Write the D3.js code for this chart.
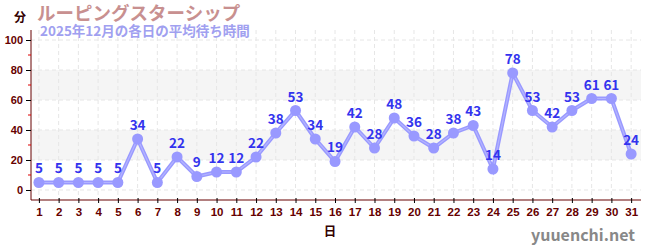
<!DOCTYPE html>
<html>
<head>
<meta charset="UTF-8">
<script src="https://d3js.org/d3.v7.min.js"></script>
<style>
body { margin: 0; background: #fff; }
svg { font-family: "Noto Sans CJK JP", "DejaVu Sans", sans-serif; }
</style>
</head>
<body>
<script>
// 各日の平均待ち時間 (分)
var days = d3.range(1, 32);
var waits = [5, 5, 5, 5, 5, 34, 5, 22, 9, 12, 12, 22, 38, 53, 34, 19, 42, 28, 48, 36, 28, 38, 43, 14, 78, 53, 42, 53, 61, 61, 24];
var yTicks = [0, 20, 40, 60, 80, 100];
var yMinor = [10, 30, 50, 70, 90];
var bands = [[20, 40], [60, 80]];

var width = 650, height = 250;
// plot edges (not "top" - that name is taken by window.top)
var plotL = 31, plotR = 641, plotT = 30, plotB = 200;
var axisCol = "#660000";

var svg = d3.select("body").append("svg")
    .attr("width", width)
    .attr("height", height);

var x = d3.scaleLinear().domain([0.6, 31.5]).range([plotL, plotR]);
var y = d3.scaleLinear().domain([-6.67, 106.67]).range([plotB, plotT]);

// bands
svg.append("g").selectAll("rect")
    .data(bands)
    .enter().append("rect")
    .attr("x", plotL)
    .attr("width", plotR - plotL)
    .attr("y", function(d) { return y(d[1]); })
    .attr("height", function(d) { return y(d[0]) - y(d[1]); })
    .attr("fill", "#f5f5f5");

// grid
var grid = svg.append("g")
    .attr("stroke", "#e6e6e6")
    .attr("stroke-dasharray", "4,3");
grid.selectAll("line.h")
    .data(yTicks)
    .enter().append("line")
    .attr("x1", plotL).attr("x2", plotR)
    .attr("y1", function(d) { return y(d); })
    .attr("y2", function(d) { return y(d); });
grid.selectAll("line.v")
    .data(days)
    .enter().append("line")
    .attr("y1", plotT).attr("y2", plotB)
    .attr("x1", function(d) { return x(d); })
    .attr("x2", function(d) { return x(d); });

// y axis
var yAxis = svg.append("g")
    .attr("transform", "translate(" + plotL + ",0)")
    .call(d3.axisLeft(y).tickValues(yTicks).tickSize(5).tickPadding(3));
yAxis.select(".domain").attr("stroke", axisCol).attr("d", "M0," + plotT + "V" + plotB);
yAxis.selectAll(".tick line").attr("stroke", "#000");
yAxis.selectAll("text")
    .attr("fill", axisCol)
    .attr("font-size", 11)
    .attr("font-weight", "bold");
svg.append("g").selectAll("line")
    .data(yMinor)
    .enter().append("line")
    .attr("x1", plotL - 3).attr("x2", plotL)
    .attr("y1", function(d) { return y(d); })
    .attr("y2", function(d) { return y(d); })
    .attr("stroke", "#dd0000");

// x axis
var xAxis = svg.append("g")
    .attr("transform", "translate(0," + plotB + ")")
    .call(d3.axisBottom(x).tickValues(days).tickFormat(d3.format("d")).tickSize(5).tickPadding(3));
xAxis.select(".domain").attr("stroke", axisCol).attr("d", "M" + plotL + ",0H" + plotR);
xAxis.selectAll(".tick line").attr("stroke", "#000").attr("y1", -2).attr("y2", 3);
xAxis.selectAll("text")
    .attr("fill", axisCol)
    .attr("font-size", 11.5)
    .attr("font-weight", "bold");

// line + points
var line = d3.line()
    .x(function(d, i) { return x(days[i]); })
    .y(function(d) { return y(d); });

svg.append("path")
    .datum(waits)
    .attr("d", line)
    .attr("fill", "none")
    .attr("stroke", "#9999ff")
    .attr("stroke-width", 4);
// lighter core of the line
svg.append("path")
    .datum(waits)
    .attr("d", line)
    .attr("fill", "none")
    .attr("stroke", "#b4b4ff")
    .attr("stroke-width", 1.2);

svg.append("g").selectAll("circle")
    .data(waits)
    .enter().append("circle")
    .attr("cx", function(d, i) { return x(days[i]); })
    .attr("cy", function(d) { return y(d); })
    .attr("r", 5.5)
    .attr("fill", "#9999ff");

svg.append("g").selectAll("text")
    .data(waits)
    .enter().append("text")
    .attr("x", function(d, i) { return x(days[i]); })
    .attr("y", function(d) { return y(d) - 9; })
    .attr("text-anchor", "middle")
    .attr("font-size", 13.5)
    .attr("font-weight", "bold")
    .attr("fill", "#3333ee")
    .text(function(d) { return d; });

// titles
svg.append("text")
    .attr("x", 37).attr("y", 20)
    .attr("font-size", 18.5)
    .attr("font-weight", "bold")
    .attr("fill", "#c89090")
    .text("ルーピングスターシップ");
svg.append("text")
    .attr("x", 40).attr("y", 36)
    .attr("font-size", 13.5)
    .attr("font-weight", "bold")
    .attr("fill", "#a0a0f0")
    .text("2025年12月の各日の平均待ち時間");
svg.append("text")
    .attr("x", 20).attr("y", 22)
    .attr("text-anchor", "middle")
    .attr("font-size", 12)
    .attr("font-weight", "bold")
    .attr("fill", "#330000")
    .text("分");
svg.append("text")
    .attr("x", 330).attr("y", 236)
    .attr("text-anchor", "middle")
    .attr("font-size", 12.5)
    .attr("font-weight", "bold")
    .attr("fill", "#330000")
    .text("日");
svg.append("text")
    .attr("x", 635).attr("y", 241)
    .attr("text-anchor", "end")
    .attr("font-size", 16)
    .attr("font-weight", "bold")
    .attr("fill", "#888888")
    .text("yuuenchi.net");
</script>
</body>
</html>
